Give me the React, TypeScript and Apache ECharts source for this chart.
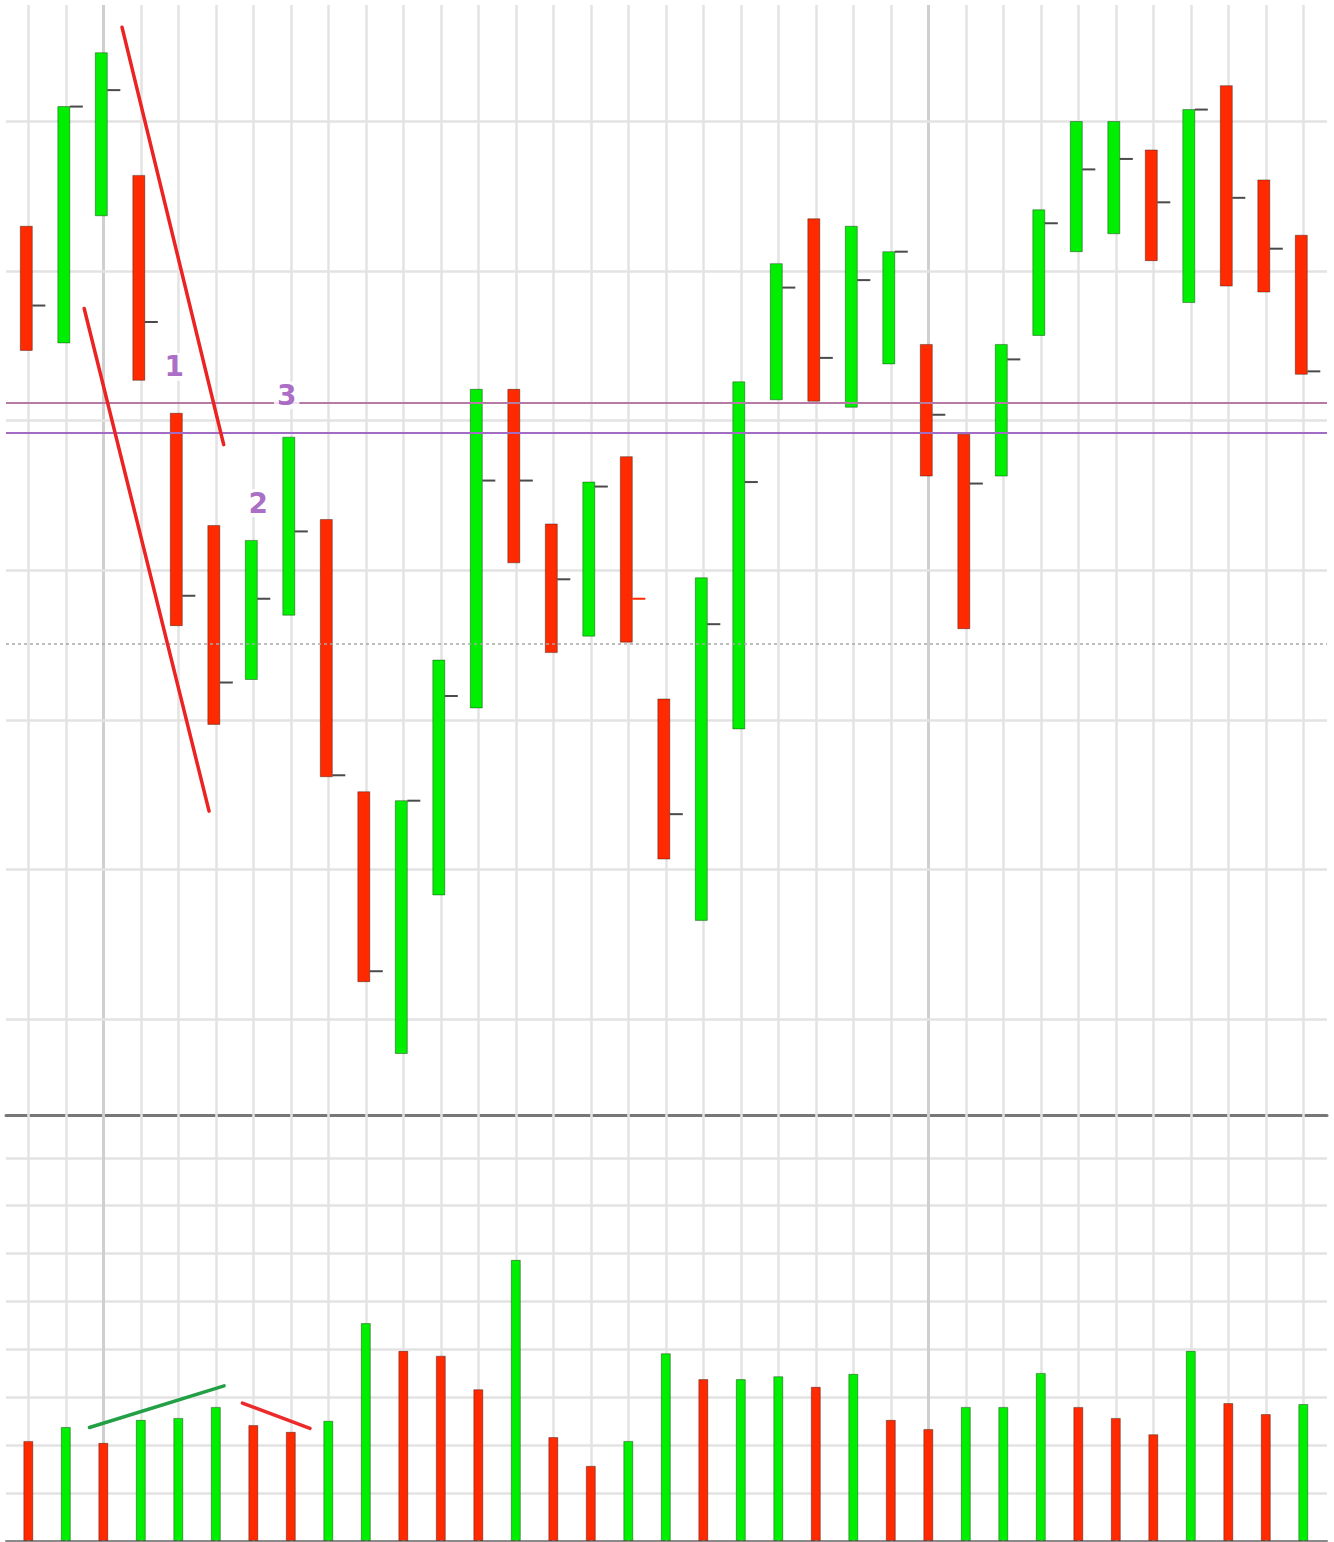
import { useEffect, useRef } from "react";
import * as echarts from "echarts";

// Daily price bars (high / low / close) and their direction (1 = up, 0 = down)
const highs = [49.3, 50.1, 50.46, 49.64, 48.05, 47.3, 47.2, 47.89, 47.34, 45.52, 45.46, 46.4, 48.21, 48.21, 47.31, 47.59, 47.76, 46.14, 46.95, 48.26, 49.05, 49.35, 49.3, 49.13, 48.51, 47.91, 48.51, 49.41, 50.0, 50.0, 49.81, 50.08, 50.24, 49.61, 49.24];
const lows = [48.47, 48.52, 49.37, 48.27, 46.63, 45.97, 46.27, 46.7, 45.62, 44.25, 43.77, 44.83, 46.08, 47.05, 46.45, 46.56, 46.52, 45.07, 44.66, 45.94, 48.14, 48.13, 48.09, 48.38, 47.63, 46.61, 47.63, 48.57, 49.13, 49.25, 49.07, 48.79, 48.9, 48.86, 48.31];
const closes = [48.77, 50.1, 50.21, 48.66, 46.83, 46.25, 46.81, 47.26, 45.63, 44.32, 45.46, 46.16, 47.6, 47.6, 46.94, 47.56, 46.81, 45.37, 46.64, 47.59, 48.89, 48.42, 48.94, 49.13, 48.04, 47.58, 48.41, 49.32, 49.68, 49.75, 49.46, 50.08, 49.49, 49.15, 48.33];
const barUp = [0, 1, 1, 0, 0, 0, 1, 1, 0, 0, 1, 1, 1, 0, 0, 1, 0, 0, 1, 1, 1, 0, 1, 1, 0, 0, 1, 1, 1, 1, 0, 1, 0, 0, 0];
// bars whose close tick is drawn in red instead of grey
const redCloseTicks = [16];

// Volume in millions and its colouring (1 = green, 0 = red)
const volumes = [2.09, 2.38, 2.05, 2.53, 2.57, 2.8, 2.42, 2.28, 2.51, 4.55, 3.97, 3.87, 3.17, 5.87, 2.17, 1.57, 2.09, 3.92, 3.38, 3.38, 3.44, 3.22, 3.49, 2.53, 2.34, 2.8, 2.8, 3.51, 2.8, 2.57, 2.23, 3.97, 2.88, 2.65, 2.86];
const volumeUp = [0, 1, 0, 1, 1, 1, 0, 0, 1, 1, 0, 0, 0, 1, 0, 0, 1, 1, 0, 1, 1, 0, 1, 0, 0, 1, 1, 1, 0, 0, 0, 1, 0, 0, 1];

// Price grid levels and reference levels
const priceLevels = [44, 45, 46, 47, 48, 49, 50];
const strongColumns = [2, 24];
const dottedLevel = 46.51;
const resistanceUpper = 48.12;
const resistanceLower = 47.92;

// Pivot labels: [bar position, price, text]
const pivotLabels: [number, number, string][] = [
  [3.89, 48.36, "1"],
  [6.13, 47.45, "2"],
  [6.89, 48.17, "3"],
];

// Hand-drawn trend lines: [bar position, value]
const upperChannel = [[2.5, 50.63], [5.21, 47.84]];
const lowerChannel = [[1.49, 48.75], [4.82, 45.39]];
const volumeRise = [[1.63, 2.37], [5.22, 3.24]];
const volumeFall = [[5.71, 2.88], [7.51, 2.35]];

const X_MIN = -0.595;
const X_MAX = 34.632;
const P_MIN = 43.359;
const P_MAX = 50.779;
const V_MAX = 8.894;

const GREEN = "#00ee00";
const RED = "#ff2a00";
const GRID_GREY = "#e3e3e3";

export default function App() {
  const ref = useRef<HTMLDivElement>(null);

  useEffect(() => {
    if (!ref.current) return;
    const chart = echarts.init(ref.current, undefined, { renderer: "svg" });

    const columnLines = (len: number) =>
      Array.from({ length: len }, (_, i) => ({
        xAxis: i,
        lineStyle: strongColumns.includes(i)
          ? { color: "#cfcfcf", width: 3, type: "solid" }
          : { color: GRID_GREY, width: 2.5, type: "solid" },
      }));

    const priceBars = highs.map((h, i) => [
      i,
      h,
      lows[i],
      closes[i],
      barUp[i],
      redCloseTicks.includes(i) ? 1 : 0,
    ]);

    const renderBar = (params: any, api: any) => {
      const i = api.value(0);
      const hi = api.coord([i, api.value(1)]);
      const lo = api.coord([i, api.value(2)]);
      const cl = api.coord([i, api.value(3)]);
      const up = api.value(4) === 1;
      const redTick = api.value(5) === 1;
      const w = 12;
      const cx = hi[0] - 2;
      return {
        type: "group",
        children: [
          {
            type: "rect",
            shape: { x: cx - w / 2, y: hi[1], width: w, height: lo[1] - hi[1] },
            style: { fill: up ? GREEN : RED, stroke: "rgba(0,0,0,0.35)", lineWidth: 1 },
          },
          {
            type: "line",
            shape: { x1: cx + w / 2, y1: cl[1], x2: cx + w / 2 + 13, y2: cl[1] },
            style: { stroke: redTick ? RED : "#4a4a4a", lineWidth: 2 },
          },
        ],
      };
    };

    const trend = (data: number[][], color: string, xi: number) => ({
      type: "line",
      xAxisIndex: xi,
      yAxisIndex: xi,
      data,
      showSymbol: false,
      symbol: "none",
      silent: true,
      clip: false,
      z: 6,
      lineStyle: { color, width: 3.5, cap: "round" },
    });

    chart.setOption({
      animation: false,
      backgroundColor: "#ffffff",
      grid: [
        { left: 6, right: 7, top: 5, height: 1110 },
        { left: 6, right: 7, top: 1115, bottom: 1 },
      ],
      xAxis: [
        {
          type: "value",
          gridIndex: 0,
          min: X_MIN,
          max: X_MAX,
          axisLine: { show: true, onZero: false, lineStyle: { color: "#777", width: 3 } },
          axisTick: { show: false },
          axisLabel: { show: false },
          splitLine: { show: false },
        },
        {
          type: "value",
          gridIndex: 1,
          min: X_MIN,
          max: X_MAX,
          axisLine: { show: true, onZero: false, lineStyle: { color: "#8a8a8a", width: 2 } },
          axisTick: { show: false },
          axisLabel: { show: false },
          splitLine: { show: false },
        },
      ],
      yAxis: [
        {
          type: "value",
          gridIndex: 0,
          min: P_MIN,
          max: P_MAX,
          axisLine: { show: false },
          axisTick: { show: false },
          axisLabel: { show: false },
          splitLine: { show: false },
        },
        {
          type: "value",
          gridIndex: 1,
          min: 0,
          max: V_MAX,
          interval: 1,
          axisLine: { show: false },
          axisTick: { show: false },
          axisLabel: { show: false },
          splitLine: { show: true, lineStyle: { color: GRID_GREY, width: 2.5 } },
        },
      ],
      series: [
        // background grid of the price panel
        {
          type: "line",
          xAxisIndex: 0,
          yAxisIndex: 0,
          data: [],
          silent: true,
          markLine: {
            z: 1,
            silent: true,
            symbol: ["none", "none"],
            label: { show: false },
            data: [
              ...columnLines(35),
              ...priceLevels.map((v) => ({
                yAxis: v,
                lineStyle: { color: GRID_GREY, width: 2.5, type: "solid" },
              })),
            ],
          },
        },
        // background columns of the volume panel
        {
          type: "line",
          xAxisIndex: 1,
          yAxisIndex: 1,
          data: [],
          silent: true,
          markLine: {
            z: 1,
            silent: true,
            symbol: ["none", "none"],
            label: { show: false },
            data: columnLines(35),
          },
        },
        {
          type: "custom",
          name: "Price",
          xAxisIndex: 0,
          yAxisIndex: 0,
          z: 3,
          data: priceBars,
          encode: { x: 0, y: [1, 2, 3] },
          renderItem: renderBar,
        },
        {
          type: "bar",
          name: "Volume",
          xAxisIndex: 1,
          yAxisIndex: 1,
          z: 3,
          barWidth: 10,
          data: volumes.map((v, i) => ({
            value: [i, v],
            itemStyle: {
              color: volumeUp[i] ? GREEN : RED,
              borderColor: "rgba(0,0,0,0.35)",
              borderWidth: 1,
            },
          })),
        },
        // reference levels drawn over the bars
        {
          type: "line",
          xAxisIndex: 0,
          yAxisIndex: 0,
          data: [],
          silent: true,
          markLine: {
            z: 5,
            silent: true,
            symbol: ["none", "none"],
            label: { show: false },
            data: [
              { yAxis: dottedLevel, lineStyle: { color: "#a8a8a8", width: 1.5, type: [3, 3] } },
              { yAxis: resistanceUpper, lineStyle: { color: "#b57aa6", width: 2, type: "solid" } },
              { yAxis: resistanceLower, lineStyle: { color: "#a26cc4", width: 2, type: "solid" } },
            ],
          },
        },
        trend(upperChannel, "#ec2323", 0),
        trend(lowerChannel, "#ec2323", 0),
        trend(volumeRise, "#23a046", 1),
        trend(volumeFall, "#ec2a2a", 1),
        {
          type: "scatter",
          xAxisIndex: 0,
          yAxisIndex: 0,
          z: 10,
          silent: true,
          symbolSize: 1,
          itemStyle: { color: "rgba(0,0,0,0)" },
          data: pivotLabels.map((p) => ({ value: [p[0], p[1]], name: p[2] })),
          label: {
            show: true,
            position: "inside",
            formatter: "{b}",
            color: "#9447b8",
            fontSize: 28,
            fontWeight: "bold",
            fontFamily: "DejaVu Sans",
            backgroundColor: "#ffffff",
            padding: [0, 3],
          },
        },
      ],
    });

    return () => chart.dispose();
  }, []);

  return (
    <div
      ref={ref}
      style={{ position: "fixed", left: 0, top: 0, width: 1334, height: 1542, background: "#fff" }}
    />
  );
}
